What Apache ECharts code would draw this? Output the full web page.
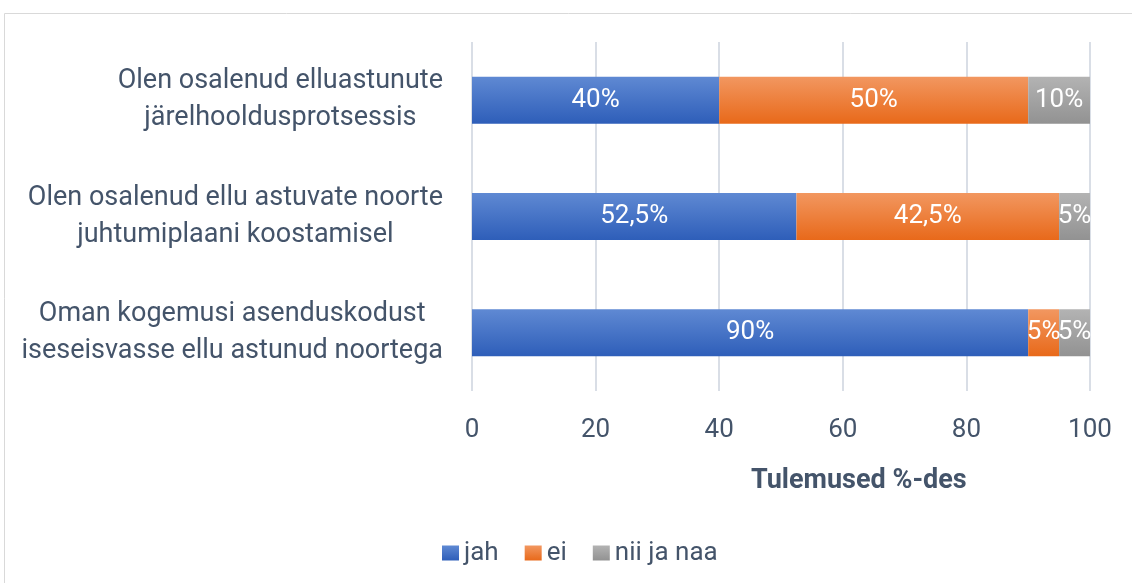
<!DOCTYPE html>
<html><head><meta charset="utf-8">
<script src="https://cdn.jsdelivr.net/npm/echarts@6/dist/echarts.min.js"></script>
<style>html,body{margin:0;padding:0;background:#fff}#c{width:1132px;height:583px}</style>
</head><body><div id="c"></div>
<script>
const categories = [
  "Olen osalenud elluastunute\njärelhooldusprotsessis",
  "Olen osalenud ellu astuvate noorte\njuhtumiplaani koostamisel",
  "Oman kogemusi asenduskodust\niseseisvasse ellu astunud noortega"
];
const seriesNames = ["jah", "ei", "nii ja naa"];
const jah = [40, 52.5, 90];
const ei = [50, 42.5, 5];
const niiJaNaa = [10, 5, 5];
const xTicks = [0, 20, 40, 60, 80, 100];
const axisTitle = "Tulemused %-des";

const grads = [
  ['#5F89D3', '#2E5EB9'],
  ['#F29760', '#E8691A'],
  ['#B3B3B3', '#929292']
];
function grad(c){return new echarts.graphic.LinearGradient(0,0,0,1,[{offset:0,color:c[0]},{offset:1,color:c[1]}]);}
const txt = '#44546A';
const font = 'Roboto, "Open Sans", sans-serif';
const data = [jah, ei, niiJaNaa];

const chart = echarts.init(document.getElementById('c'), null, {renderer:'canvas'});
chart.setOption({
  animation:false,
  textStyle:{fontFamily:font},
  grid:{left:472, right:42, top:42, bottom:192},
  xAxis:{type:'value', min:xTicks[0], max:xTicks[xTicks.length-1], interval:20,
    axisLine:{show:false}, axisTick:{show:false},
    splitLine:{lineStyle:{color:'#D9DEE6', width:2}},
    axisLabel:{color:txt, fontSize:26, margin:26, fontFamily:font}},
  yAxis:{type:'category', data:categories, inverse:true,
    axisLine:{show:false}, axisTick:{show:false},
    axisLabel:{margin:29, color:txt, fontSize:27, lineHeight:37, fontFamily:font,
      formatter:function(v){return v.split('\n').map(s=>'{a|'+s+'}').join('\n');},
      rich:{a:{align:'center', color:txt, fontSize:27, lineHeight:37, fontFamily:font}}}},
  legend:{top:535, left:437, icon:'rect', itemWidth:17, itemHeight:15, itemGap:26,
    textStyle:{color:txt, fontSize:26, fontFamily:font}, data:seriesNames},
  graphic:[
    {type:'rect', shape:{x:4.5, y:13.5, width:1140, height:600}, style:{fill:null, stroke:'#D9D9D9', lineWidth:1}, silent:true},
    {type:'text', left:751, top:468, style:{text:axisTitle, fill:txt, font:'bold 27px '+font}}
  ],
  series: seriesNames.map((n,i)=>({
    name:n, type:'bar', stack:'s', barWidth:47, data:data[i],
    itemStyle:{color:grad(grads[i])},
    label:{show:true, position:'inside', color:'#fff', fontSize:26, fontFamily:font,
      formatter:p=>String(p.value).replace('.',',')+'%'}
  }))
});
</script></body></html>
